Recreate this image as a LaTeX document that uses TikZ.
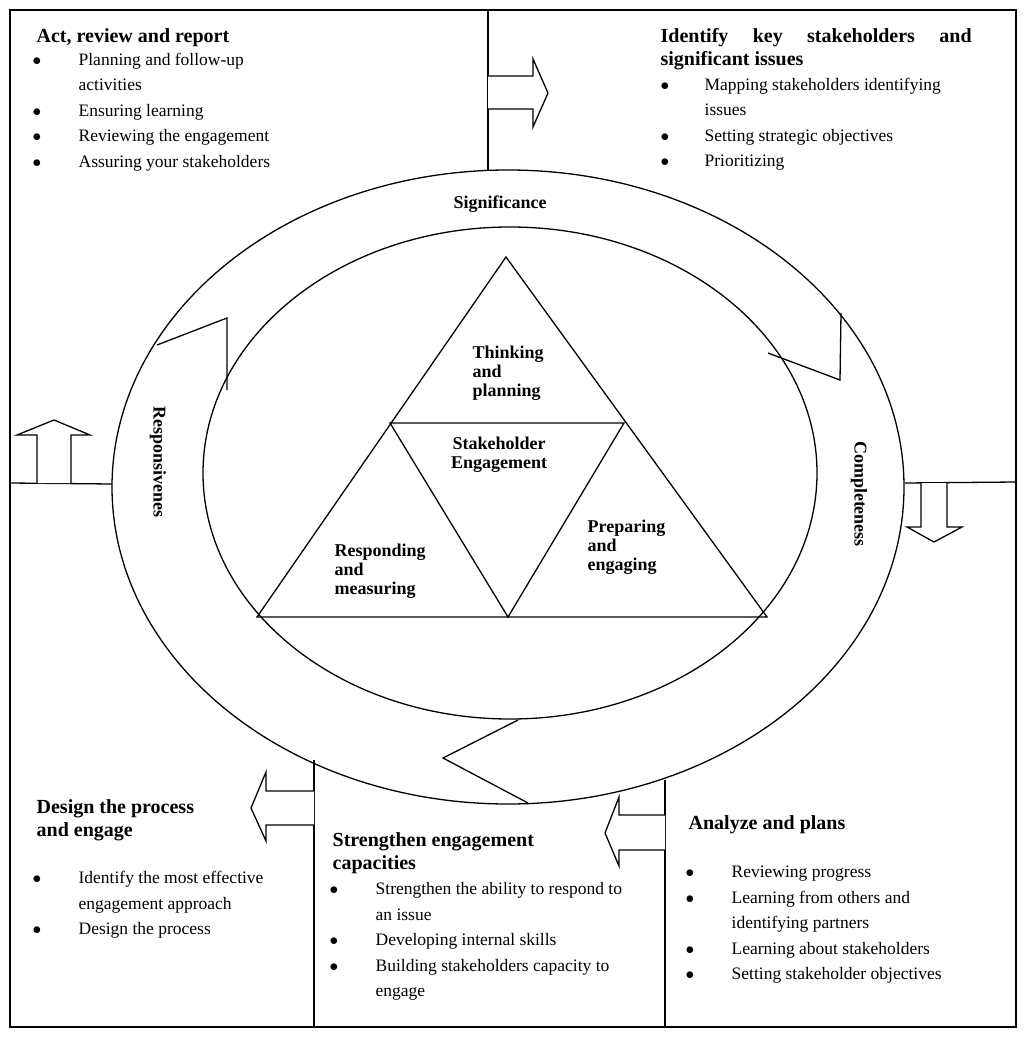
\documentclass[tikz,border=0pt]{standalone}
\usepackage{fontspec}
\setmainfont{Liberation Serif}
\begin{document}
\begin{tikzpicture}[x=1pt,y=-1pt,line width=1.3pt,line join=miter,
  hd/.style={anchor=north west,inner sep=0pt,font=\fontsize{20}{23}\selectfont\bfseries,align=left},
  ls/.style={anchor=north west,inner sep=0pt,font=\fontsize{17.5}{25.5}\selectfont},
  lb/.style={inner sep=0pt,font=\fontsize{18}{19}\selectfont\bfseries,align=left},
  ba/.style={line width=1.3pt,fill=white}]
\useasboundingbox (0,0) rectangle (1024,1038);
\newcommand{\bul}[2]{\begin{tabular}{@{}p{#1}@{}l@{}}#2\end{tabular}}
% frame
\draw (10,10) rectangle (1016,1027);
\coordinate (t1) at (488,10); \coordinate (t2) at (488,170);
\draw (t1) -- (t2);
\coordinate (l1) at (10,483); \coordinate (l2) at (112,484);
\draw (l1) -- (l2);
\coordinate (r1) at (905,483); \coordinate (r2) at (1016,482);
\draw (r1) -- (r2);
\coordinate (b1) at (314,760); \coordinate (b2) at (314,1027);
\draw (b1) -- (b2);
\coordinate (c1) at (665,780); \coordinate (c2) at (665,1027);
\draw (c1) -- (c2);
% ellipses
\draw (508,487) ellipse [x radius=396, y radius=317];
\draw (510,473) ellipse [x radius=307, y radius=246];
% notches
\draw (157,345) -- (227,318) -- (227,390);
\draw (841,313) -- (840,380) -- (768,353);
\draw (528,803) -- (443,758) -- (518,720);
% triangles
\draw (506,257) -- (767,617) -- (257,617) -- cycle;
\draw (390,423) -- (624,423) -- (508,617) -- cycle;
% block arrows
\draw[ba] (488,76) -- (533,76) -- (533,59) -- (548,93) -- (533,127) -- (533,109) -- (488,109);
\draw[ba] (37,483) -- (37,435) -- (17,435) -- (54,420) -- (90,435) -- (71,435) -- (71,483);
\draw[ba] (921,483) -- (921,527) -- (907,527) -- (934,542) -- (962,527) -- (947,527) -- (947,483);
\draw[ba] (314,791) -- (266,791) -- (266,772) -- (251,808) -- (266,841) -- (266,825) -- (314,825);
\draw[ba] (665,815) -- (619,815) -- (619,797) -- (605,833) -- (619,866) -- (619,850) -- (665,850);
% ring labels
\node[lb] (sig) at (500,204) {Significance};
\node[lb,rotate=-90] (resp) at (158,462) {Responsivenes};
\node[lb,rotate=-90] (comp) at (859,494) {Completeness};
\node[lb,anchor=west] (think) at (472,373) {Thinking\\and\\planning};
\node[lb,align=center] (se) at (499,455) {Stakeholder\\Engagement};
\node[lb,anchor=west] (prep) at (587,547) {Preparing\\and\\engaging};
\node[lb,anchor=west] (respm) at (334,571) {Responding\\and\\measuring};
% texts
\node[hd] (h1) at (36,28) {Act, review and report};
\node[ls] (L1) at (32,47) {\bul{46pt}{$\bullet$ & Planning and follow-up\\ & activities\\ $\bullet$ & Ensuring learning\\ $\bullet$ & Reviewing the engagement\\ $\bullet$ & Assuring your stakeholders}};
\node[hd] (h2) at (660,28) {\makebox[311pt][s]{Identify key stakeholders and}\\significant issues};
\node[ls] (L2) at (660,72) {\bul{44pt}{$\bullet$ & Mapping stakeholders identifying\\ & issues\\ $\bullet$ & Setting strategic objectives\\ $\bullet$ & Prioritizing}};
\node[hd] (h3) at (36,799) {Design the process\\and engage};
\node[ls] (L3) at (32,865) {\bul{46pt}{$\bullet$ & Identify the most effective\\ & engagement approach\\ $\bullet$ & Design the process}};
\node[hd] (h4) at (332,832) {Strengthen engagement\\capacities};
\node[ls] (L4) at (329,876) {\bul{46pt}{$\bullet$ & Strengthen the ability to respond to\\ & an issue\\ $\bullet$ & Developing internal skills\\ $\bullet$ & Building stakeholders capacity to\\ & engage}};
\node[hd] (h5) at (688,815) {Analyze and plans};
\node[ls] (L5) at (685,859) {\bul{46pt}{$\bullet$ & Reviewing progress\\ $\bullet$ & Learning from others and\\ & identifying partners\\ $\bullet$ & Learning about stakeholders\\ $\bullet$ & Setting stakeholder objectives}};
\end{tikzpicture}
\end{document}
